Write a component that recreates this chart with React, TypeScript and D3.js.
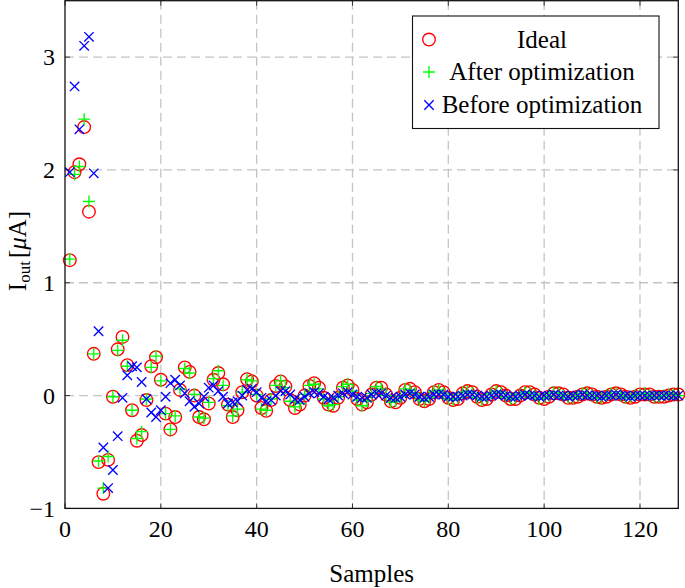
import React from "react";
import * as d3 from "d3";

// sample values (n = 1..128)
const ideal = [
  1.2, 1.98, 2.05, 2.38, 1.63, 0.37, -0.59, -0.87, -0.57, -0.01,
  0.41, 0.52, 0.27, -0.13, -0.4, -0.35, -0.04, 0.26, 0.34, 0.14,
  -0.16, -0.3, -0.19, 0.05, 0.25, 0.21, 0.0, -0.19, -0.21, -0.07,
  0.14, 0.2, 0.1, -0.08, -0.19, -0.13, 0.03, 0.145, 0.125, 0.0,
  -0.11, -0.135, -0.04, 0.085, 0.125, 0.08, -0.04, -0.11, -0.08, 0.0,
  0.085, 0.11, 0.07, -0.02, -0.08, -0.09, -0.02, 0.07, 0.09, 0.05,
  -0.03, -0.08, -0.06, 0.01, 0.07, 0.07, 0.01, -0.05, -0.06, -0.02,
  0.05, 0.06, 0.03, -0.03, -0.05, -0.03, 0.03, 0.05, 0.03, -0.02,
  -0.04, -0.03, 0.02, 0.04, 0.03, -0.01, -0.04, -0.03, 0.01, 0.04,
  0.03, 0.0, -0.03, -0.03, 0.0, 0.03, 0.03, 0.01, -0.02, -0.03,
  -0.01, 0.02, 0.02, 0.01, -0.02, -0.02, -0.01, 0.01, 0.02, 0.01,
  -0.01, -0.02, -0.01, 0.01, 0.02, 0.01, -0.01, -0.02, -0.01, 0.01,
  0.01, 0.01, -0.01, -0.01, -0.01, 0.0, 0.01, 0.01,
];

const afterOpt = [
  1.21, 1.96, 2.03, 2.45, 1.72, 0.37, -0.58, -0.82, -0.54, -0.01,
  0.4, 0.49, 0.26, -0.13, -0.38, -0.32, -0.03, 0.25, 0.35, 0.13,
  -0.16, -0.3, -0.18, 0.06, 0.24, 0.2, 0.01, -0.19, -0.2, -0.06,
  0.15, 0.22, 0.09, -0.09, -0.18, -0.12, 0.03, 0.14, 0.13, 0.01,
  -0.12, -0.13, -0.03, 0.09, 0.13, 0.07, -0.05, -0.1, -0.07, 0.01,
  0.09, 0.1, 0.06, -0.03, -0.09, -0.08, -0.01, 0.08, 0.1, 0.04,
  -0.04, -0.09, -0.05, 0.02, 0.08, 0.06, 0.0, -0.06, -0.05, -0.01,
  0.06, 0.05, 0.02, -0.04, -0.05, -0.02, 0.04, 0.05, 0.02, -0.03,
  -0.04, -0.02, 0.03, 0.04, 0.02, -0.02, -0.04, -0.02, 0.02, 0.04,
  0.02, -0.01, -0.03, -0.02, 0.01, 0.03, 0.02, 0.0, -0.03, -0.02,
  0.0, 0.03, 0.02, 0.0, -0.02, -0.02, 0.0, 0.02, 0.02, 0.0,
  -0.02, -0.02, 0.0, 0.02, 0.02, 0.0, -0.02, -0.01, 0.0, 0.01,
  0.02, 0.0, -0.01, -0.01, 0.0, 0.01, 0.01, 0.0,
];

const beforeOpt = [
  1.98, 2.74, 2.36, 3.1, 3.18, 1.97, 0.57, -0.46, -0.82, -0.66,
  -0.36, -0.02, 0.18, 0.26, 0.25, 0.12, -0.03, -0.15, -0.19, -0.13,
  -0.01, 0.11, 0.14, 0.09, 0.02, -0.05, -0.1, -0.07, -0.01, 0.07,
  0.09, 0.04, -0.01, -0.07, -0.06, -0.05, 0.0, 0.05, 0.06, 0.03,
  -0.02, -0.05, -0.04, 0.0, 0.04, 0.04, 0.01, -0.03, -0.04, -0.01,
  0.02, 0.03, 0.02, -0.01, -0.03, -0.02, 0.0, 0.02, 0.03, 0.01,
  -0.01, -0.02, -0.02, 0.01, 0.02, 0.02, 0.0, -0.02, -0.02, -0.01,
  0.01, 0.02, 0.01, -0.01, -0.02, -0.01, 0.01, 0.01, 0.01, -0.01,
  -0.01, -0.01, 0.0, 0.01, 0.01, 0.0, -0.01, -0.01, 0.0, 0.01,
  0.01, 0.0, -0.01, -0.01, 0.0, 0.01, 0.0, 0.0, -0.01, 0.0,
  0.0, 0.01, 0.0, 0.0, -0.01, 0.0, 0.0, 0.01, 0.0, 0.0,
  0.0, -0.01, 0.0, 0.0, 0.01, 0.0, 0.0, -0.01, 0.0, 0.0,
  0.0, 0.0, 0.0, 0.0, 0.0, 0.0, 0.0, 0.0,
];

const xTicks = [0, 20, 40, 60, 80, 100, 120];
const yTicks = [-1, 0, 1, 2, 3];
const legendLabels = ["Ideal", "After optimization", "Before optimization"];

const W = 685;
const H = 588;
const left = 65;
const right = 678.3;
const top = 0.7;
const bottom = 508.4;
const font = "'Liberation Serif', 'Times New Roman', serif";

const x = d3.scaleLinear().domain([0, 128]).range([left, right]);
const y = d3.scaleLinear().domain([-1, 3.5]).range([bottom, top]);

const RED = "#ff0000";
const GREEN = "#00ff00";
const BLUE = "#0000ff";
const SW = 1.35;

const Circle = ({ cx, cy }: { cx: number; cy: number }) => (
  <circle cx={cx} cy={cy} r={6.3} fill="none" stroke={RED} strokeWidth={SW} />
);
const Plus = ({ cx, cy }: { cx: number; cy: number }) => (
  <path
    d={`M${cx - 6},${cy}H${cx + 6}M${cx},${cy - 6}V${cy + 6}`}
    stroke={GREEN}
    strokeWidth={SW}
  />
);
const Cross = ({ cx, cy }: { cx: number; cy: number }) => (
  <path
    d={`M${cx - 4.7},${cy - 4.7}L${cx + 4.7},${cy + 4.7}M${cx - 4.7},${cy + 4.7}L${cx + 4.7},${cy - 4.7}`}
    stroke={BLUE}
    strokeWidth={SW}
  />
);

export default function App() {
  const lx = 429;
  const rows = [39.5, 72, 105];
  return (
    <svg
      width={W}
      height={H}
      style={{ position: "absolute", left: 0, top: 0, background: "#fff" }}
      fontFamily={font}
    >
      {/* grid */}
      {xTicks
        .filter((t) => t > 0)
        .map((t) => (
          <line key={"gx" + t} x1={x(t)} x2={x(t)} y1={top} y2={bottom}
            stroke="#c4c4c4" strokeWidth={1.3} strokeDasharray="9,5" />
        ))}
      {yTicks
        .filter((t) => t > -1)
        .map((t) => (
          <line key={"gy" + t} x1={left} x2={right} y1={y(t)} y2={y(t)}
            stroke="#c4c4c4" strokeWidth={1.3} strokeDasharray="9,5" />
        ))}

      {/* ticks, inward on all sides */}
      {xTicks.map((t) => (
        <g key={"tx" + t} stroke="#333" strokeWidth={1}>
          <line x1={x(t)} x2={x(t)} y1={bottom} y2={bottom - 5} />
          <line x1={x(t)} x2={x(t)} y1={top} y2={top + 5} />
        </g>
      ))}
      {yTicks.map((t) => (
        <g key={"ty" + t} stroke="#333" strokeWidth={1}>
          <line x1={left} x2={left + 5} y1={y(t)} y2={y(t)} />
          <line x1={right} x2={right - 5} y1={y(t)} y2={y(t)} />
        </g>
      ))}

      {/* data */}
      {ideal.map((v, i) => (
        <Circle key={"i" + i} cx={x(i + 1)} cy={y(v)} />
      ))}
      {afterOpt.map((v, i) => (
        <Plus key={"a" + i} cx={x(i + 1)} cy={y(v)} />
      ))}
      {beforeOpt.map((v, i) => (
        <Cross key={"b" + i} cx={x(i + 1)} cy={y(v)} />
      ))}

      {/* frame */}
      <rect x={left} y={top} width={right - left} height={bottom - top}
        fill="none" stroke="#111" strokeWidth={1.3} />

      {/* tick labels */}
      {xTicks.map((t) => (
        <text key={"lx" + t} x={x(t)} y={537} fontSize={24} textAnchor="middle">
          {t}
        </text>
      ))}
      {yTicks.map((t) => (
        <text key={"ly" + t} x={55} y={y(t)} dy="0.34em" fontSize={24} textAnchor="end">
          {t < 0 ? "\u2212" + Math.abs(t) : t}
        </text>
      ))}

      {/* axis labels */}
      <text x={(left + right) / 2} y={582} fontSize={25} textAnchor="middle">
        Samples
      </text>
      <text transform="translate(26,251) rotate(-90)" fontSize={25} textAnchor="middle">
        <tspan>I</tspan>
        <tspan fontSize={17} dy={4}>out</tspan>
        <tspan dy={-4} dx={3}>[</tspan>
        <tspan fontStyle="italic">μ</tspan>
        <tspan>A]</tspan>
      </text>

      {/* legend */}
      <rect x={412.5} y={16} width={246.5} height={112.5} fill="#fff" stroke="#111" strokeWidth={1.1} />
      <Circle cx={lx} cy={rows[0]} />
      <Plus cx={lx} cy={rows[1]} />
      <Cross cx={lx} cy={rows[2]} />
      {legendLabels.map((s, i) => (
        <text key={s} x={542} y={rows[i]} dy="0.33em" fontSize={25} textAnchor="middle">
          {s}
        </text>
      ))}
    </svg>
  );
}
